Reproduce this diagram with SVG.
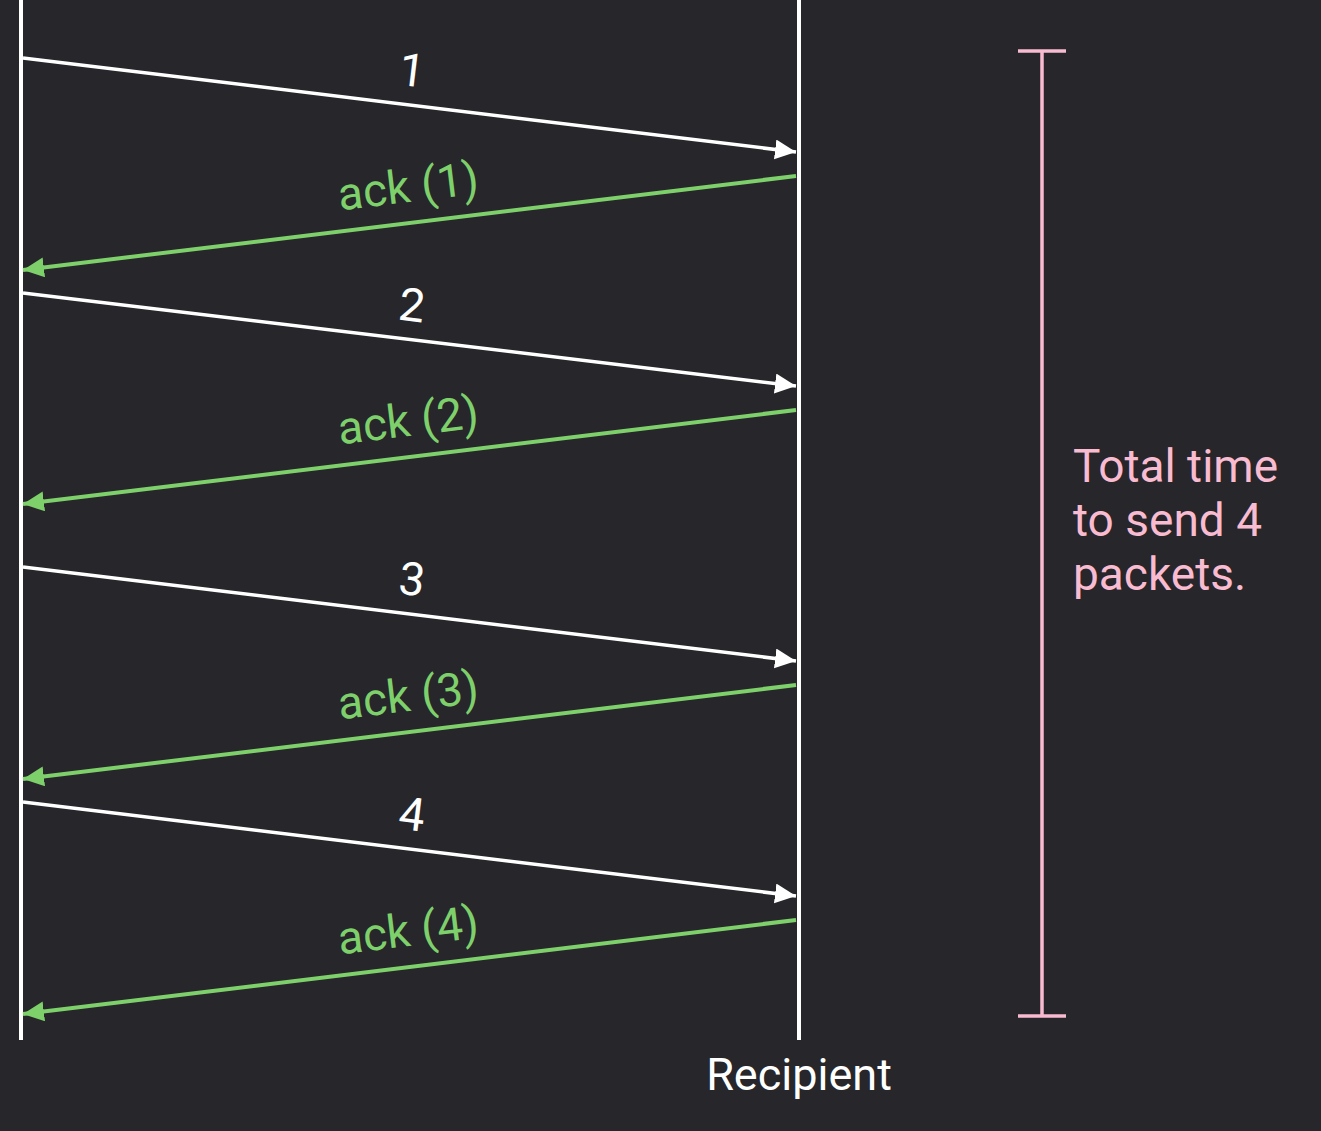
<svg xmlns="http://www.w3.org/2000/svg" width="1321" height="1131" viewBox="0 0 1321 1131">
<style>
text{font-family:Roboto,"Liberation Sans",sans-serif}
.lbl{font-size:46px;text-anchor:middle}
.rc{font-size:45px;text-anchor:middle}
.w{fill:#ffffff}
.g{fill:#7ed06b}
.p{fill:#f8bbd0;font-size:46px}
.life{stroke:#ffffff;stroke-width:4}
.pk{stroke:#ffffff;stroke-width:3.5;fill:none;marker-end:url(#aw)}
.ak{stroke:#7ed06b;stroke-width:4;fill:none;marker-end:url(#ag)}
.br{stroke:#f8bbd0;stroke-width:3.5;fill:none}
</style>
<defs>
<marker id="aw" markerUnits="userSpaceOnUse" markerWidth="24" markerHeight="22" refX="21" refY="10" orient="auto"><path d="M0,0 L21,10 L0,20 Z" fill="#ffffff"/></marker>
<marker id="ag" markerUnits="userSpaceOnUse" markerWidth="24" markerHeight="22" refX="21" refY="10" orient="auto"><path d="M0,0 L21,10 L0,20 Z" fill="#7ed06b"/></marker>
</defs>
<rect width="1321" height="1131" fill="#26262b"/>
<g id="sender"><line class="life" x1="21" y1="0" x2="21" y2="1040"/></g>
<g id="recipient"><line class="life" x1="799" y1="0" x2="799" y2="1040"/><text class="rc w" x="799" y="1090">Recipient</text></g>
<g id="connectors">
<line class="pk" x1="23" y1="58" x2="796" y2="152"/>
<line class="ak" x1="796" y1="176" x2="23" y2="270"/>
<line class="pk" x1="23" y1="293" x2="796" y2="386"/>
<line class="ak" x1="796" y1="410" x2="23" y2="504"/>
<line class="pk" x1="23" y1="567" x2="796" y2="661"/>
<line class="ak" x1="796" y1="685" x2="23" y2="779"/>
<line class="pk" x1="23" y1="802" x2="796" y2="896"/>
<line class="ak" x1="796" y1="920" x2="23" y2="1014"/>
</g>
<g id="labels">
<text class="lbl w" x="410" y="86" transform="rotate(6.9 410 86)">1</text>
<text class="lbl g" x="410" y="202" transform="rotate(-6.9 410 202)">ack (1)</text>
<text class="lbl w" x="410" y="321" transform="rotate(6.9 410 321)">2</text>
<text class="lbl g" x="410" y="436" transform="rotate(-6.9 410 436)">ack (2)</text>
<text class="lbl w" x="410" y="595" transform="rotate(6.9 410 595)">3</text>
<text class="lbl g" x="410" y="711" transform="rotate(-6.9 410 711)">ack (3)</text>
<text class="lbl w" x="410" y="830" transform="rotate(6.9 410 830)">4</text>
<text class="lbl g" x="410" y="946" transform="rotate(-6.9 410 946)">ack (4)</text>
</g>
<g id="total-time">
<line class="br" x1="1042" y1="51" x2="1042" y2="1016"/>
<line class="br" x1="1018" y1="51" x2="1066" y2="51"/>
<line class="br" x1="1018" y1="1016" x2="1066" y2="1016"/>
<text class="p" x="1073" y="482">Total time</text>
<text class="p" x="1073" y="536">to send 4</text>
<text class="p" x="1073" y="590">packets.</text>
</g>
</svg>
